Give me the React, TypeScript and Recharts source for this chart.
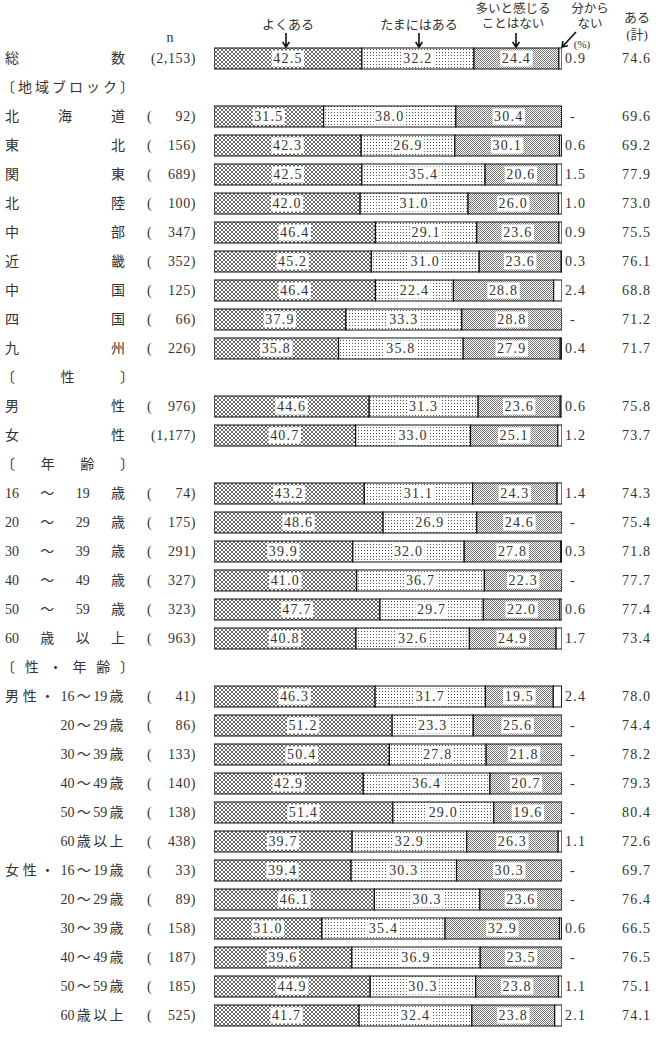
import React from 'react';
import { BarChart, Bar, XAxis, YAxis, LabelList } from 'recharts';

const categories = [
  '総数', '〔地域ブロック〕', '北海道', '東北', '関東', '北陸', '中部', '近畿', '中国', '四国', '九州',
  '〔性〕', '男性', '女性',
  '〔年齢〕', '16～19歳', '20～29歳', '30～39歳', '40～49歳', '50～59歳', '60歳以上',
  '〔性・年齢〕', '男性・16～19歳', '20～29歳', '30～39歳', '40～49歳', '50～59歳', '60歳以上',
  '女性・16～19歳', '20～29歳', '30～39歳', '40～49歳', '50～59歳', '60歳以上',
];

const nValues = [
  '2,153', null, '92', '156', '689', '100', '347', '352', '125', '66', '226',
  null, '976', '1,177',
  null, '74', '175', '291', '327', '323', '963',
  null, '41', '86', '133', '140', '138', '438',
  '33', '89', '158', '187', '185', '525',
];

const yokuAru = [
  42.5, null, 31.5, 42.3, 42.5, 42.0, 46.4, 45.2, 46.4, 37.9, 35.8,
  null, 44.6, 40.7,
  null, 43.2, 48.6, 39.9, 41.0, 47.7, 40.8,
  null, 46.3, 51.2, 50.4, 42.9, 51.4, 39.7,
  39.4, 46.1, 31.0, 39.6, 44.9, 41.7,
];

const tamaniAru = [
  32.2, null, 38.0, 26.9, 35.4, 31.0, 29.1, 31.0, 22.4, 33.3, 35.8,
  null, 31.3, 33.0,
  null, 31.1, 26.9, 32.0, 36.7, 29.7, 32.6,
  null, 31.7, 23.3, 27.8, 36.4, 29.0, 32.9,
  30.3, 30.3, 35.4, 36.9, 30.3, 32.4,
];

const ooiToKanjiruKotoWaNai = [
  24.4, null, 30.4, 30.1, 20.6, 26.0, 23.6, 23.6, 28.8, 28.8, 27.9,
  null, 23.6, 25.1,
  null, 24.3, 24.6, 27.8, 22.3, 22.0, 24.9,
  null, 19.5, 25.6, 21.8, 20.7, 19.6, 26.3,
  30.3, 23.6, 32.9, 23.5, 23.8, 23.8,
];

// null = "-" (no respondents) or header row
const wakaranai = [
  0.9, null, null, 0.6, 1.5, 1.0, 0.9, 0.3, 2.4, null, 0.4,
  null, 0.6, 1.2,
  null, 1.4, null, 0.3, null, 0.6, 1.7,
  null, 2.4, null, null, null, null, 1.1,
  null, null, 0.6, null, 1.1, 2.1,
];

const aruKei = [
  74.6, null, 69.6, 69.2, 77.9, 73.0, 75.5, 76.1, 68.8, 71.2, 71.7,
  null, 75.8, 73.7,
  null, 74.3, 75.4, 71.8, 77.7, 77.4, 73.4,
  null, 78.0, 74.4, 78.2, 79.3, 80.4, 72.6,
  69.7, 76.4, 66.5, 76.5, 75.1, 74.1,
];

const legendLabels = ['よくある', 'たまにはある', '多いと感じる', 'ことはない', '分から', 'ない', 'ある', '(計)'];

const FONT = "'Liberation Serif','Noto Sans CJK JP',serif";
const TXT = '#333';

const sections: string[] = [];
{
  let cur = '';
  categories.forEach((c) => {
    if (c.startsWith('〔')) cur = c;
    sections.push(cur);
  });
}

const rows = categories.map((c, i) => ({
  id: i,
  label: c,
  s1: yokuAru[i],
  s2: tamaniAru[i],
  s3: ooiToKanjiruKotoWaNai[i],
  s4: wakaranai[i],
}));

function spread(pieces: string[], c0: number, c1: number, y: number, keyBase: string) {
  const n = pieces.length;
  return pieces.map((p, k) => {
    const cx = n === 1 ? c0 : c0 + ((c1 - c0) * k) / (n - 1);
    return (
      <text key={keyBase + k} x={cx} y={y} dy="0.35em" textAnchor="middle" fontFamily={FONT} fontSize={14} fill={TXT}>
        {p}
      </text>
    );
  });
}

const split = (s: string) => s.match(/\d+|./g) || [];

const LeftTick = (props: any) => {
  const { y, payload } = props;
  const i = Number(payload.value);
  const label = categories[i];
  const sec = sections[i];
  const els: any[] = [];
  if (label.startsWith('〔')) {
    els.push(...spread(Array.from(label), 8, 127, y, 'h'));
  } else if (sec === '〔性・年齢〕') {
    let rest = label;
    if (label.includes('・')) {
      const idx = label.indexOf('・');
      const prefix = Array.from(label.slice(0, idx + 1));
      rest = label.slice(idx + 1);
      els.push(...spread(prefix, 12, 47.5, y, 'p'));
    }
    els.push(...spread(split(rest), 67.5, 116.5, y, 'r'));
  } else {
    els.push(...spread(split(label), 12, 118, y, 's'));
  }
  const n = nValues[i];
  if (n) {
    if (n.includes(',')) {
      els.push(
        <text key="n1" x={196} y={y} dy="0.35em" textAnchor="end" fontFamily={FONT} fontSize={14} fill={TXT} letterSpacing={0.6}>{'(' + n + ')'}</text>
      );
    } else {
      els.push(
        <text key="n0" x={147} y={y} dy="0.35em" fontFamily={FONT} fontSize={14} fill={TXT}>(</text>,
        <text key="n1" x={196} y={y} dy="0.35em" textAnchor="end" fontFamily={FONT} fontSize={14} fill={TXT} letterSpacing={0.6}>{n + ')'}</text>
      );
    }
    const w = wakaranai[i];
    els.push(
      <text key="w" x={w == null ? 570 : 565} y={y} dy="0.35em" fontFamily={FONT} fontSize={14} fill={TXT} letterSpacing={1.2}>
        {w == null ? '-' : w.toFixed(1)}
      </text>
    );
    const t = aruKei[i];
    if (t != null) {
      els.push(
        <text key="t" x={622} y={y} dy="0.35em" fontFamily={FONT} fontSize={14} fill={TXT} letterSpacing={1.2}>
          {t.toFixed(1)}
        </text>
      );
    }
  }
  return <g>{els}</g>;
};

const SegLabel = (props: any) => {
  const { x, y, width, height, value } = props;
  if (value == null || !width) return null;
  const cx = Number(x) + Number(width) / 2;
  const cy = Number(y) + Number(height) / 2;
  const txt = Number(value).toFixed(1);
  const w = txt.length * 7.6 + 2;
  return (
    <g>
      <rect x={cx - w / 2} y={cy - 8} width={w} height={16} fill="#fff" />
      <text x={cx} y={cy} dy="0.35em" textAnchor="middle" fontFamily={FONT} fontSize={14} fill={TXT} letterSpacing={1.2}>
        {txt}
      </text>
    </g>
  );
};

const Arrow = ({ x1, y1, x2, y2 }: { x1: number; y1: number; x2: number; y2: number }) => {
  const a = Math.atan2(y2 - y1, x2 - x1);
  const h = 6;
  const l1x = x2 - h * Math.cos(a - 0.6);
  const l1y = y2 - h * Math.sin(a - 0.6);
  const l2x = x2 - h * Math.cos(a + 0.6);
  const l2y = y2 - h * Math.sin(a + 0.6);
  return (
    <path
      d={`M${x1},${y1}L${x2},${y2}M${l1x},${l1y}L${x2},${y2}L${l2x},${l2y}`}
      stroke="#111"
      strokeWidth={1.6}
      fill="none"
    />
  );
};

export default function App() {
  const t = (s: string, x: number, y: number, size = 13) => (
    <text x={x} y={y} textAnchor="middle" fontFamily={FONT} fontSize={size} fill={TXT}>{s}</text>
  );
  return (
    <div style={{ position: 'absolute', left: 0, top: 0, width: 668, height: 1043, background: '#fff' }}>
      <svg width={0} height={0} style={{ position: 'absolute' }}>
        <defs>
          <pattern id="pat1" width={4} height={4} patternUnits="userSpaceOnUse">
            <rect width={4} height={4} fill="#fff" />
            <path d="M0,0L4,4M4,0L0,4" stroke="#444" strokeWidth={0.8} />
          </pattern>
          <pattern id="pat2" width={3} height={3} patternUnits="userSpaceOnUse">
            <rect width={3} height={3} fill="#fff" />
            <rect x={1} y={1} width={1} height={1} fill="#555" />
          </pattern>
          <pattern id="pat3" width={2} height={2} patternUnits="userSpaceOnUse">
            <rect width={2} height={2} fill="#fff" />
            <rect x={0} y={0} width={1} height={1} fill="#777" />
            <rect x={1} y={1} width={1} height={1} fill="#777" />
          </pattern>
        </defs>
      </svg>
      <BarChart
        layout="vertical"
        width={668}
        height={1043}
        data={rows}
        margin={{ top: 44, right: 106, bottom: 13, left: 0 }}
        barSize={21}
      >
        <XAxis type="number" domain={[0, 100]} hide allowDataOverflow />
        <YAxis
          type="category"
          dataKey="id"
          width={214}
          axisLine={false}
          tickLine={false}
          interval={0}
          tick={(p: any) => <LeftTick {...p} />}
        />
        <Bar dataKey="s1" stackId="a" fill="url(#pat1)" stroke="#111" strokeWidth={1.2} isAnimationActive={false}>
          <LabelList dataKey="s1" content={(p: any) => <SegLabel {...p} />} />
        </Bar>
        <Bar dataKey="s2" stackId="a" fill="url(#pat2)" stroke="#111" strokeWidth={1.2} isAnimationActive={false}>
          <LabelList dataKey="s2" content={(p: any) => <SegLabel {...p} />} />
        </Bar>
        <Bar dataKey="s3" stackId="a" fill="url(#pat3)" stroke="#111" strokeWidth={1.2} isAnimationActive={false}>
          <LabelList dataKey="s3" content={(p: any) => <SegLabel {...p} />} />
        </Bar>
        <Bar dataKey="s4" stackId="a" fill="#fff" stroke="#111" strokeWidth={1.2} isAnimationActive={false} />
      </BarChart>
      <svg width={668} height={60} style={{ position: 'absolute', left: 0, top: 0, pointerEvents: 'none' }}>
        {t('n', 170, 42, 14)}
        {t(legendLabels[0], 288, 29)}
        <Arrow x1={286} y1={33} x2={286} y2={47} />
        {t(legendLabels[1], 419, 29)}
        <Arrow x1={419} y1={33} x2={419} y2={47} />
        {t(legendLabels[2], 513, 13, 12.5)}
        {t(legendLabels[3], 513, 28, 12.5)}
        <Arrow x1={516} y1={33} x2={516} y2={47} />
        {t(legendLabels[4], 590, 13, 12.5)}
        {t(legendLabels[5], 590, 28, 12.5)}
        <Arrow x1={576} y1={32} x2={562} y2={47} />
        {t('(%)', 582, 48, 11)}
        {t(legendLabels[6], 637, 22)}
        {t(legendLabels[7], 637, 39)}
      </svg>
    </div>
  );
}
